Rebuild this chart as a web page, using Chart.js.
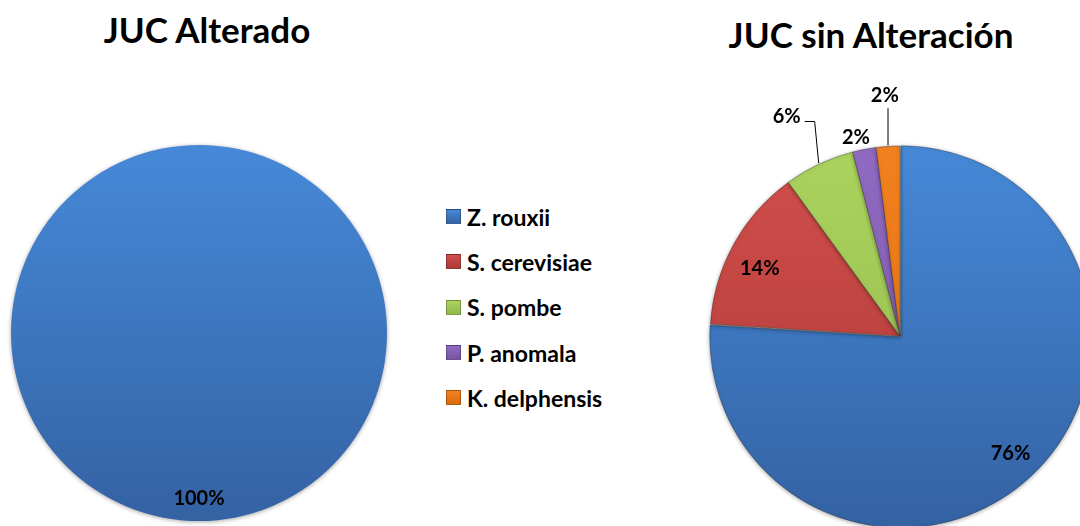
<!DOCTYPE html>
<html>
<head>
<meta charset="utf-8">
<script src="https://cdn.jsdelivr.net/npm/chart.js@4.4.1/dist/chart.umd.min.js"></script>
<style>
  html, body { margin: 0; padding: 0; background: #fff; }
  body { width: 1080px; height: 526px; overflow: hidden; position: relative; font-family: Lato, "Open Sans", sans-serif; }
  .title { position: absolute; font-weight: 700; font-size: 35px; color: #000; white-space: nowrap; transform: translateX(-50%); }
  canvas { position: absolute; }
  #legend { position: absolute; left: 446px; top: 194px; }
  .item { display: flex; align-items: center; height: 45.3px; font-weight: 700; font-size: 23px; color: #000; white-space: nowrap; }
  .swatch { width: 13px; height: 13px; margin-right: 6px; border: 1px solid rgba(0,0,0,0.25); }
</style>
</head>
<body>
<div class="title" id="t1" style="left:207px; top:8px;"></div>
<div class="title" id="t2" style="left:871px; top:13px;"></div>
<canvas id="pieA" width="400" height="406" style="left:0; top:120px;"></canvas>
<canvas id="pieB" width="420" height="480" style="left:690px; top:60px;"></canvas>
<div id="legend"></div>
<script>
const species = ["Z. rouxii", "S. cerevisiae", "S. pombe", "P. anomala", "K. delphensis"];
const titleAltered = "JUC Alterado";
const titleUnaltered = "JUC sin Alteración";
const alteredValues = [100, 0, 0, 0, 0];
const unalteredValues = [76, 14, 6, 2, 2];

// [top, bottom] gradient colours per species
const sliceColors = [
  ["#4689d8", "#3462a3"],
  ["#d24f4c", "#ab3835"],
  ["#abd35e", "#92b94c"],
  ["#916ac2", "#7655a3"],
  ["#f28120", "#dc6a0a"],
];

document.getElementById("t1").textContent = titleAltered;
document.getElementById("t2").textContent = titleUnaltered;

const legendEl = document.getElementById("legend");
species.forEach((name, i) => {
  const row = document.createElement("div");
  row.className = "item";
  const sw = document.createElement("span");
  sw.className = "swatch";
  sw.style.background = `linear-gradient(${sliceColors[i][0]}, ${sliceColors[i][1]})`;
  row.appendChild(sw);
  row.appendChild(document.createTextNode(name));
  legendEl.appendChild(row);
});

function sliceFill(context) {
  const chart = context.chart;
  const c = sliceColors[context.dataIndex];
  const area = chart.chartArea;
  if (!area) return c[0];
  const g = chart.ctx.createLinearGradient(0, area.top, 0, area.bottom);
  g.addColorStop(0, c[0]);
  g.addColorStop(1, c[1]);
  return g;
}

function sliceBorderWidth(context) {
  const v = context.dataset.data[context.dataIndex];
  const total = context.dataset.data.reduce((a, b) => a + b, 0);
  return v && v < total ? 1 : 0;
}

// percentage labels, some outside with leader lines
function pctLabels(place) {
  return {
    id: "pctLabels",
    afterDatasetsDraw(chart) {
      const ctx = chart.ctx;
      const meta = chart.getDatasetMeta(0);
      const data = chart.data.datasets[0].data;
      const total = data.reduce((a, b) => a + b, 0);
      ctx.save();
      ctx.font = "bold 20px Lato, 'Open Sans', sans-serif";
      ctx.fillStyle = "#000";
      ctx.strokeStyle = "#000";
      ctx.lineWidth = 1;
      ctx.textAlign = "center";
      ctx.textBaseline = "middle";
      meta.data.forEach((arc, i) => {
        if (!data[i]) return;
        const p = arc.getProps(["x", "y", "startAngle", "endAngle", "outerRadius"], true);
        const cfg = place[i];
        const mid = (p.startAngle + p.endAngle) / 2;
        const a = mid + (cfg.shift || 0) * Math.PI / 180;
        const r = p.outerRadius * cfg.r;
        const lx = p.x + Math.cos(a) * r;
        const ly = p.y + Math.sin(a) * r;
        const text = Math.round(data[i] / total * 100) + "%";
        ctx.fillText(text, lx, ly);
        if (cfg.leader) {
          const ex = p.x + Math.cos(mid) * (p.outerRadius + 1);
          const ey = p.y + Math.sin(mid) * (p.outerRadius + 1);
          const w = ctx.measureText(text).width;
          ctx.beginPath();
          if (cfg.leader === "elbow") {
            ctx.moveTo(ex, ey);
            ctx.lineTo(ex - 4, ly + 5);
            ctx.lineTo(lx + w / 2 + 4, ly + 5);
          } else {
            ctx.moveTo(ex, ey);
            ctx.lineTo(ex, ly + 13);
          }
          ctx.stroke();
        }
      });
      ctx.restore();
    },
  };
}

const shadow = {
  id: "shadow",
  beforeDatasetsDraw(chart) {
    chart.ctx.save();
    chart.ctx.shadowColor = "rgba(0,0,0,0.35)";
    chart.ctx.shadowBlur = 4;
    chart.ctx.shadowOffsetY = 1;
  },
  afterDatasetsDraw(chart) {
    chart.ctx.restore();
  },
};

function makePie(canvasId, values, padding, offsets, place) {
  const ctx = document.getElementById(canvasId).getContext("2d");
  return new Chart(ctx, {
    type: "pie",
    data: {
      labels: species,
      datasets: [{
        data: values,
        backgroundColor: sliceFill,
        borderColor: "rgba(40,40,40,0.35)",
        borderWidth: sliceBorderWidth,
        offset: offsets,
      }],
    },
    options: {
      responsive: false,
      animation: false,
      layout: { padding },
      plugins: {
        legend: { display: false },
        tooltip: { enabled: false },
      },
    },
    plugins: [shadow, pctLabels(place)],
  });
}

makePie("pieA", alteredValues,
  { left: 11, right: 13, top: 25, bottom: 5 },
  [0, 0, 0, 0, 0],
  [{ r: 0.88 }, {}, {}, {}, {}]);

makePie("pieB", unalteredValues,
  { left: 17.5, right: 17.5, top: 83.5, bottom: 11.5 },
  [4, 0, 0, 0, 0],
  [
    { r: 0.85 },
    { r: 0.82, shift: -3 },
    { r: 1.30, shift: -2.1, leader: "elbow" },
    { r: 1.07, shift: -1.7 },
    { r: 1.27, leader: "straight" },
  ]);
</script>
</body>
</html>
